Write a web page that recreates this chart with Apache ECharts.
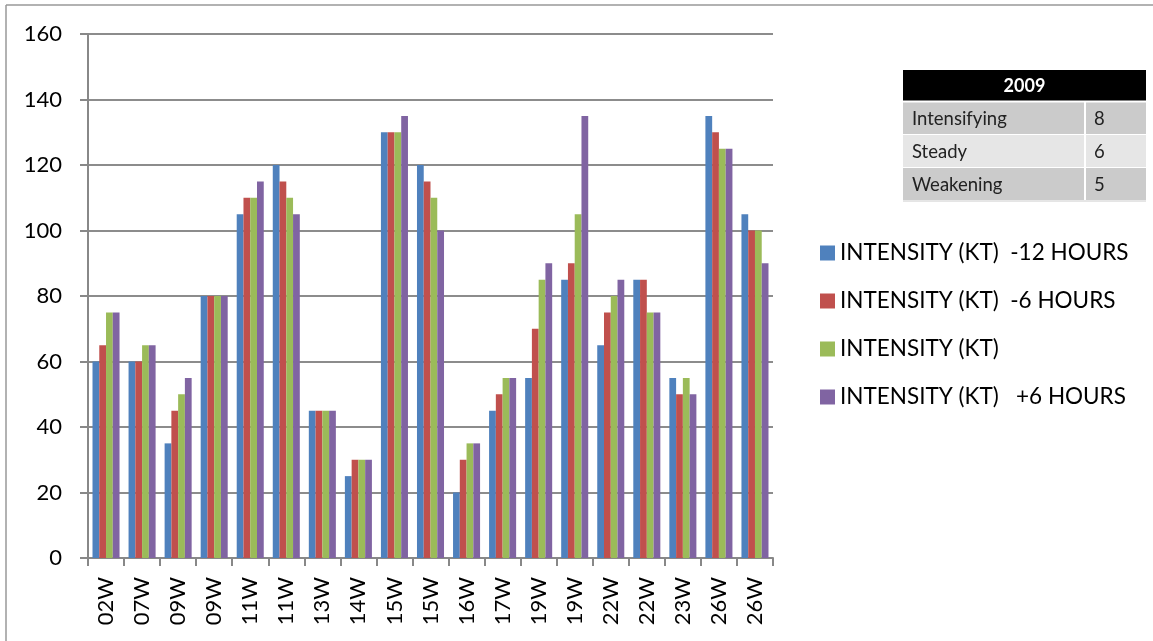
<!DOCTYPE html>
<html><head><meta charset="utf-8">
<script src="https://cdn.jsdelivr.net/npm/echarts@6/dist/echarts.min.js"></script>
<style>html,body{margin:0;padding:0;background:#fff}#c{width:1153px;height:641px}</style>
</head><body><div id="c"></div>
<script>
var categories = ['02W','07W','09W','09W','11W','11W','13W','14W','15W','15W','16W','17W','19W','19W','22W','22W','23W','26W','26W'];
var seriesNames = ['INTENSITY (KT)  -12 HOURS','INTENSITY (KT)  -6 HOURS','INTENSITY (KT)','INTENSITY (KT)   +6 HOURS'];
var minus12 = [60,60,35,80,105,120,45,25,130,120,20,45,55,85,65,85,55,135,105];
var minus6  = [65,60,45,80,110,115,45,30,130,115,30,50,70,90,75,85,50,130,100];
var current = [75,65,50,80,110,110,45,30,130,110,35,55,85,105,80,75,55,125,100];
var plus6   = [75,65,55,80,115,105,45,30,135,100,35,55,90,135,85,75,50,125,90];
var yTicks = [0,20,40,60,80,100,120,140,160];
var tableTitle = '2009';
var tableLabels = ['Intensifying','Steady','Weakening'];
var tableValues = [8,6,5];

var colors = ['#4F81BD','#C0504D','#9BBB59','#8064A2'];
var FONT = 'Lato';
var chart = echarts.init(document.getElementById('c'));

var values = [minus12, minus6, current, plus6];
var series = values.map(function(v,i){
  return {name: seriesNames[i], type:'bar', data:v, barGap:'0%', barCategoryGap:'25%',
    itemStyle:{color:colors[i]}, emphasis:{disabled:true}};
});

var graphics = [];
var tx = 903, tw = 243, cx = 1085;
graphics.push({type:'rect', shape:{x:tx,y:70,width:tw,height:31}, style:{fill:'#000'}});
graphics.push({type:'text', style:{x:tx+tw/2, y:86, text:tableTitle, fill:'#fff', font:'bold 18px '+FONT, align:'center', verticalAlign:'middle'}});
var rowFills = ['#cbcbcb','#e6e6e6','#cbcbcb'];
tableLabels.forEach(function(lab,i){
  var y = 102 + i*33;
  graphics.push({type:'rect', shape:{x:tx,y:y,width:tw,height:32}, style:{fill:rowFills[i]}});
  graphics.push({type:'text', style:{x:tx+9, y:y+17, text:lab, fill:'#222', font:'18.5px '+FONT, verticalAlign:'middle'}});
  graphics.push({type:'text', style:{x:cx+9, y:y+17, text:String(tableValues[i]), fill:'#222', font:'18.5px '+FONT, verticalAlign:'middle'}});
});
graphics.push({type:'line', shape:{x1:cx,y1:102,x2:cx,y2:200}, style:{stroke:'#fff', lineWidth:2}});
graphics.push({type:'line', shape:{x1:tx,y1:101.5,x2:tx+tw,y2:101.5}, style:{stroke:'#fff', lineWidth:2}});
graphics.push({type:'line', shape:{x1:tx,y1:201,x2:tx+tw,y2:201}, style:{stroke:'#ccc', lineWidth:1}});
// outer frame (top and left edges only)
graphics.push({type:'line', shape:{x1:6,y1:5,x2:1153,y2:5}, style:{stroke:'#999', lineWidth:1.5}, silent:true});
graphics.push({type:'line', shape:{x1:6,y1:5,x2:6,y2:641}, style:{stroke:'#999', lineWidth:1.5}, silent:true});

chart.setOption({
  animation:false,
  textStyle:{fontFamily:FONT},
  color: colors,
  grid:{left:88, right:380, top:34, bottom:83, containLabel:false},
  legend:{
    orient:'vertical', left:815, top:235, itemWidth:15, itemHeight:15, itemGap:22,
    icon:'rect',
    textStyle:{fontSize:22.5, color:'#000', fontFamily:FONT, padding:[0,0,0,0], lineHeight:26},
    data: seriesNames
  },
  xAxis:{
    type:'category', data:categories,
    axisLine:{lineStyle:{color:'#888', width:2}},
    axisTick:{show:true, length:8, lineStyle:{color:'#888', width:2}},
    axisLabel:{rotate:90, fontSize:22, color:'#000', margin:19, interval:0, fontFamily:FONT}
  },
  yAxis:{
    type:'value', min:yTicks[0], max:yTicks[yTicks.length-1], interval:yTicks[1]-yTicks[0],
    axisLine:{show:true, lineStyle:{color:'#888', width:2}},
    axisTick:{show:true, length:8, lineStyle:{color:'#888', width:2}},
    axisLabel:{fontSize:22, color:'#000', margin:26, fontFamily:FONT},
    splitLine:{lineStyle:{color:'#8c8c8c', width:2}}
  },
  series: series,
  graphic: graphics
});
</script></body></html>
